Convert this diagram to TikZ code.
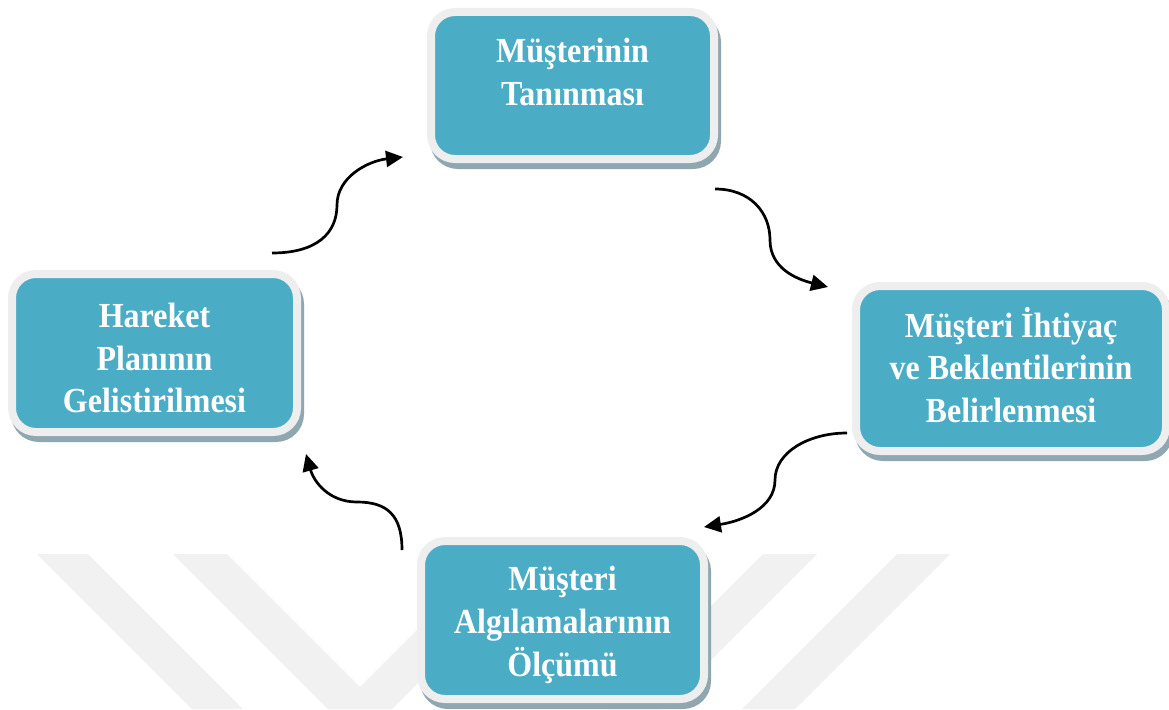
\documentclass[tikz,border=0pt]{standalone}
\usepackage{fontspec}
\setmainfont{Liberation Serif}
\usetikzlibrary{arrows.meta}
\definecolor{teal1}{HTML}{4BACC6}
\definecolor{rim}{HTML}{EEEEEE}
\definecolor{shade}{HTML}{8EA7B0}
\definecolor{wm}{HTML}{F1F1F1}
\begin{document}
\begin{tikzpicture}[x=1pt,y=-1pt,
  box/.style={rectangle, rounded corners=24pt, draw=rim, line width=8pt, fill=teal1,
    inner sep=0pt, outer sep=0pt,
    preaction={draw=shade, fill=shade, line width=8pt, transform canvas={shift={(3pt,-6pt)}}}},
  lbl/.style={text=white, align=center, font=\fontsize{32}{39}\selectfont\bfseries, inner sep=0pt, transform shape},
  tall/.style={yscale=1.1},
  flow/.style={line width=2.7pt, -{Triangle[length=17pt,width=16pt]}},
]
\useasboundingbox (0,0) rectangle (1169,709);
% watermark
\fill[wm] (37,554) -- (88,554) -- (243,709) -- (192,709) -- cycle;
\fill[wm] (173,554) -- (227,554) -- (360,687) -- (493,554) -- (547,554) -- (392,709) -- (328,709) -- cycle;
\fill[wm] (763,554) -- (817,554) -- (662,709) -- (608,709) -- cycle;
\fill[wm] (897,554) -- (950,554) -- (795,709) -- (742,709) -- cycle;
% boxes
\node[box, minimum width=283pt, minimum height=147pt] (n1) at (572.5,85.5) {};
\node[box, minimum width=310pt, minimum height=165pt] (n2) at (1011,368.5) {};
\node[box, minimum width=283pt, minimum height=158pt] (n4) at (562.5,620) {};
\node[box, minimum width=285pt, minimum height=158pt] (n3) at (154.5,353) {};
% labels
\begin{scope}[shift={(572.5,72)}, tall]
  \node[lbl] (t1) at (0,0) {Müşterinin\\Tanınması};
\end{scope}
\begin{scope}[shift={(1011,365)}, tall]
  \node[lbl] (t2) at (0,0) {Müşteri İhtiyaç\\ve Beklentilerinin\\Belirlenmesi};
\end{scope}
\begin{scope}[shift={(154.5,358)}, tall]
  \node[lbl] (t3) at (0,0) {Hareket\\Planının\\Gelistirilmesi};
\end{scope}
\begin{scope}[shift={(562.5,625)}, tall]
  \node[lbl] (t4) at (0,0) {Müşteri\\Algılamalarının\\Ölçümü};
\end{scope}
% connectors
\coordinate (a1s) at (272,253); \coordinate (a1m) at (337,205); \coordinate (a1e) at (403,157);
\coordinate (a2s) at (715,189); \coordinate (a2m) at (770,240); \coordinate (a2e) at (828,287);
\coordinate (a3s) at (847,433); \coordinate (a3m) at (775,480); \coordinate (a3e) at (704,527);
\coordinate (a4s) at (402,550); \coordinate (a4m) at (357,502); \coordinate (a4e) at (306,454);
\draw[flow] (a1s) .. controls +(45,0) and +(0,28) .. (a1m) .. controls +(0,-28) and +(-35,4) .. (a1e);
\draw[flow] (a2s) .. controls +(35,0) and +(0,-28) .. (a2m) .. controls +(0,28) and +(-32,-8) .. (a2e);
\draw[flow] (a3s) .. controls +(-38,0) and +(0,-28) .. (a3m) .. controls +(0,28) and +(38,-6) .. (a3e);
\draw[flow] (a4s) .. controls +(0,-35) and +(30,0) .. (a4m) .. controls +(-28,0) and +(8,28) .. (a4e);
\end{tikzpicture}
\end{document}
